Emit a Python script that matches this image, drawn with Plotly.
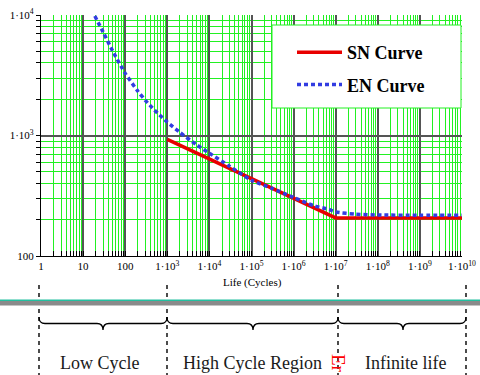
import plotly.graph_objects as go

# ---------------- data ----------------
sn_cycles = [1e3, 1e7, 1e10]
sn_stress = [930, 207, 207]

en_cycles = [19, 30, 50, 100, 200, 300, 500, 1e3, 2e3, 5e3, 1e4, 3e4, 1e5, 3e5,
             1e6, 3e6, 7e6, 1e7, 3e7, 1e8, 1e9, 1e10]
en_stress = [9800, 7200, 5050, 3280, 2330, 1960, 1620, 1290, 1060, 835, 713, 556, 425, 365,
             306, 262, 243, 232, 222, 219, 218, 218]

x_tickvals = [1, 10, 100, 1e3, 1e4, 1e5, 1e6, 1e7, 1e8, 1e9, 1e10]
x_ticktext = ["1", "10", "100"] + ["1·10<sup>%d</sup>" % k for k in range(3, 11)]
y_tickvals = [100, 1e3, 1e4]
y_ticktext = ["100", "1·10<sup>3</sup>", "1·10<sup>4</sup>"]

regions = ["Low Cycle", "High Cycle Region", "Infinite life"]

# minor grid values (2..9 in each decade)
x_minor = [m * 10 ** d for d in range(0, 10) for m in range(2, 10)]
y_minor = [m * 10 ** d for d in range(2, 4) for m in range(2, 10)]

W, H = 480, 375
L, R, T, B = 41, 18, 15, 119
PW, PH = W - L - R, H - T - B


def px(q):
    return (q - L) / PW


def py(p):
    return (H - B - p) / PH


SERIF = "Liberation Serif, Times New Roman, serif"

fig = go.Figure()
fig.add_trace(go.Scatter(x=sn_cycles, y=sn_stress, mode="lines", name="SN Curve",
                         line=dict(color="rgb(232,0,0)", width=3.5),
                         legendgroup="a"))
fig.add_trace(go.Scatter(x=en_cycles, y=en_stress, mode="lines", name="EN Curve",
                         line=dict(color="rgb(50,60,225)", width=3.5, dash="4px,3px",
                                   shape="spline", smoothing=0.6),
                         legendgroup="b"))

axis_common = dict(type="log", showline=True, linecolor="black", linewidth=1.2,
                   showgrid=True, gridcolor="#555555", gridwidth=1.5, zeroline=False,
                   tickfont=dict(family=SERIF, size=11, color="black"))

fig.update_xaxes(range=[0, 10], tickmode="array", tickvals=x_tickvals, ticktext=x_ticktext,
                 ticks="inside", ticklen=5, tickcolor="black",
                 minor=dict(tickmode="array", tickvals=x_minor, showgrid=True,
                            gridcolor="#22f022", gridwidth=1, ticks="inside",
                            ticklen=5, tickcolor="black"),
                 **axis_common)
fig.update_yaxes(range=[2, 4], tickmode="array", tickvals=y_tickvals, ticktext=y_ticktext,
                 ticks="outside", ticklen=4, tickcolor="black",
                 minor=dict(tickmode="array", tickvals=y_minor, showgrid=True,
                            gridcolor="#22f022", gridwidth=1, ticks="outside",
                            ticklen=4, tickcolor="black"),
                 **axis_common)

shapes = []
# legend background box
shapes.append(dict(type="rect", xref="paper", yref="paper", layer="above",
                   x0=px(272), x1=px(461), y0=py(108), y1=py(25),
                   fillcolor="white", line=dict(color="#22f022", width=1)))
# dashed separators
for q in [39, 167, 338, 466]:
    shapes.append(dict(type="line", xref="paper", yref="paper",
                       x0=px(q), x1=px(q), y0=py(285), y1=py(376),
                       line=dict(color="black", width=1.4, dash="4px,4px")))
# horizontal band
shapes.append(dict(type="rect", xref="paper", yref="paper", x0=px(0), x1=px(480),
                   y0=py(305.5), y1=py(301), fillcolor="#8a8a8a", line=dict(width=0)))
shapes.append(dict(type="line", xref="paper", yref="paper", x0=px(0), x1=px(480),
                   y0=py(300.3), y1=py(300.3), line=dict(color="#22c0a0", width=1.6)))


def brace(xa, xb, xm, ytop=317, ymid=323.5, ytip=330, r=6):
    pts = [
        ("M", [(xa, ytop)]),
        ("Q", [(xa, ymid), (xa + r, ymid)]),
        ("L", [(xm - r, ymid)]),
        ("Q", [(xm, ymid), (xm, ytip)]),
        ("Q", [(xm, ymid), (xm + r, ymid)]),
        ("L", [(xb - r, ymid)]),
        ("Q", [(xb, ymid), (xb, ytop)]),
    ]
    s = ""
    for cmd, ps in pts:
        s += cmd + " ".join("%.5f,%.5f" % (px(a), py(b)) for a, b in ps) + " "
    return s.strip()


for xa, xb, xm in [(39, 167, 103), (167, 338, 253), (338, 466, 403)]:
    shapes.append(dict(type="path", xref="paper", yref="paper", path=brace(xa, xb, xm),
                       line=dict(color="black", width=1.3)))

annotations = []
annotations.append(dict(text="Life (Cycles)", xref="paper", yref="paper", x=px(252), y=py(282),
                        showarrow=False, font=dict(family=SERIF, size=11, color="black"),
                        xanchor="center", yanchor="middle"))
for txt, xc in zip(regions, [99, 252, 405]):
    annotations.append(dict(text=txt, xref="paper", yref="paper", x=px(xc), y=py(363),
                            showarrow=False, font=dict(family=SERIF, size=18, color="#1a1a1a"),
                            xanchor="center", yanchor="middle"))
annotations.append(dict(text="Er", xref="paper", yref="paper", x=px(339), y=py(363),
                        showarrow=False, textangle=90,
                        font=dict(family=SERIF, size=19, color="red"),
                        xanchor="center", yanchor="middle"))

fig.update_layout(
    width=W, height=H,
    margin=dict(l=L, r=R, t=T, b=B, autoexpand=False),
    paper_bgcolor="white", plot_bgcolor="white",
    shapes=shapes, annotations=annotations,
    showlegend=True,
    legend=dict(x=px(292), y=py(34), xanchor="left", yanchor="top",
                bgcolor="rgba(0,0,0,0)", borderwidth=0, tracegroupgap=6,
                itemwidth=45,
                font=dict(family=SERIF, size=18, color="black", weight="bold")),
)

fig.write_html("out.html", config={"displayModeBar": False},
               post_script="document.body.style.margin='0';document.body.style.padding='0';")
